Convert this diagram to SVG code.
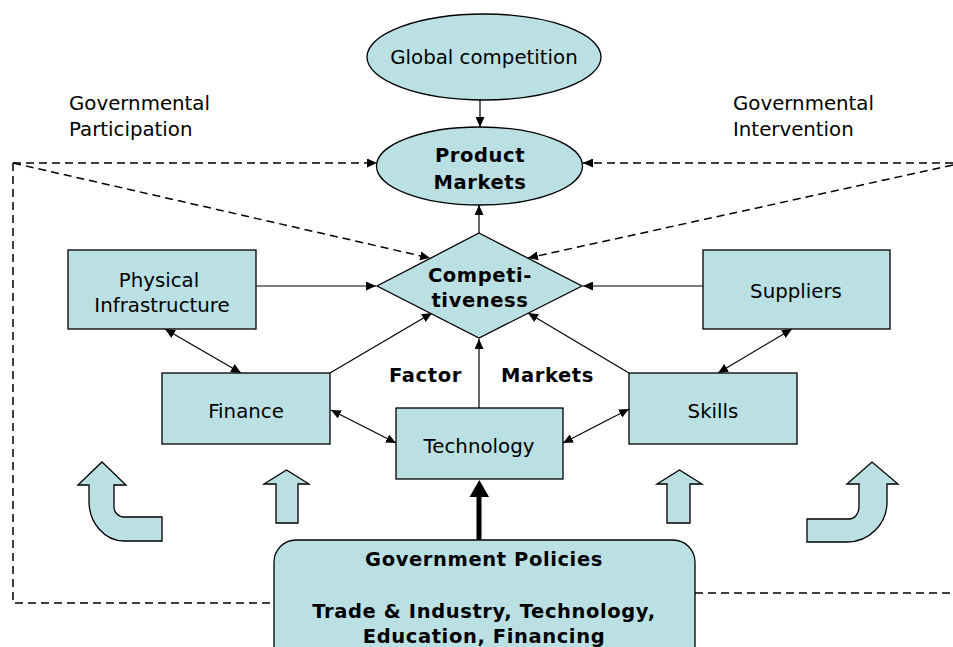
<svg xmlns="http://www.w3.org/2000/svg" width="953" height="647" viewBox="0 0 953 647">
<defs>
<marker id="ah" markerUnits="userSpaceOnUse" markerWidth="11" markerHeight="9" refX="10" refY="4.5" orient="auto-start-reverse">
<path d="M0,0 L10,4.5 L0,9 Z" fill="#000"/>
</marker>
</defs>
<style>
.n{fill:#BAE0E3;stroke:#000;stroke-width:1.3}
.t{font-family:"DejaVu Sans","Liberation Sans",sans-serif;font-size:19.8px;fill:#000}
.b{font-family:"DejaVu Sans","Liberation Sans",sans-serif;font-size:19.5px;font-weight:bold;fill:#000;letter-spacing:0.6px}
.c{text-anchor:middle}
.l{stroke:#000;stroke-width:1.2;fill:none;marker-end:url(#ah)}
.d{marker-start:url(#ah)}
.ds{stroke:#000;stroke-width:1.5;fill:none;stroke-dasharray:8,5}
.dsa{marker-end:url(#ah)}
</style>
<rect width="953" height="647" fill="#fff"/>

<g id="connectors">
<line class="l" x1="480" y1="100" x2="480" y2="127"/>
<line class="l" x1="479" y1="233" x2="479" y2="205"/>
<line class="l" x1="256" y1="286" x2="376" y2="286"/>
<line class="l" x1="703" y1="286" x2="583" y2="286"/>
<line class="l d" x1="165" y1="329" x2="241" y2="373"/>
<line class="l" x1="330" y1="373" x2="432" y2="313"/>
<line class="l d" x1="331" y1="410" x2="396" y2="443"/>
<line class="l" x1="479" y1="408" x2="479" y2="339"/>
<line class="l" x1="629" y1="373" x2="528" y2="313"/>
<line class="l d" x1="563" y1="443" x2="629" y2="409"/>
<line class="l d" x1="718" y1="373" x2="792" y2="329"/>
<line x1="479" y1="540" x2="479" y2="495" stroke="#000" stroke-width="5"/>
<polygon points="469.5,497 489,497 479.3,480" fill="#000"/>
<line class="ds dsa" x1="13" y1="163" x2="377" y2="163"/>
<line class="ds dsa" x1="13" y1="163" x2="430" y2="258"/>
<polyline class="ds" points="13,163 13,603 274,603"/>
<line class="ds dsa" x1="953" y1="163" x2="583" y2="163"/>
<line class="ds dsa" x1="953" y1="165" x2="528" y2="258"/>
<line class="ds" x1="695" y1="593" x2="953" y2="593"/>
</g>

<g id="global-competition">
<ellipse class="n" cx="484" cy="57" rx="117" ry="43"/>
<text class="t c" x="484" y="64">Global competition</text>
</g>

<g id="product-markets">
<ellipse class="n" cx="479.5" cy="166" rx="103" ry="39"/>
<text class="b c" x="480" y="162">Product</text>
<text class="b c" x="480" y="189">Markets</text>
</g>

<g id="competitiveness">
<polygon class="n" points="479,233 582,286 479,338 377,286"/>
<text class="b c" x="480" y="282">Competi-</text>
<text class="b c" x="480" y="307">tiveness</text>
</g>

<g id="physical-infrastructure">
<rect class="n" x="68" y="250" width="188" height="79"/>
<text class="t c" x="159" y="287">Physical</text>
<text class="t c" x="162" y="312">Infrastructure</text>
</g>

<g id="suppliers">
<rect class="n" x="703" y="250" width="187" height="79"/>
<text class="t c" x="796" y="298">Suppliers</text>
</g>

<g id="finance">
<rect class="n" x="162" y="373" width="168" height="71"/>
<text class="t c" x="246" y="418">Finance</text>
</g>

<g id="technology">
<rect class="n" x="396" y="408" width="167" height="71"/>
<text class="t c" x="479" y="453">Technology</text>
</g>

<g id="skills">
<rect class="n" x="629" y="373" width="168" height="71"/>
<text class="t c" x="713" y="418">Skills</text>
</g>

<g id="labels">
<text class="t" x="69" y="110">Governmental</text>
<text class="t" x="69" y="136">Participation</text>
<text class="t" x="733" y="110">Governmental</text>
<text class="t" x="733" y="136">Intervention</text>
<text class="b c" x="425.5" y="382">Factor</text>
<text class="b c" x="547.5" y="382">Markets</text>
</g>

<g id="block-arrows">
<path class="n" d="M78,485 L102,462 L126,485 L114,485 L114,507 A10,10 0 0 0 124,517 L162,517 L162,541 L124,541 A35,40 0 0 1 89,501 L89,485 Z"/>
<path class="n" d="M264,484 L286.5,470 L309,484 L298,484 L298,523 L276,523 L276,484 Z"/>
<path class="n" d="M657,484 L679.5,470 L702,484 L690,484 L690,523 L667,523 L667,484 Z"/>
<path class="n" d="M847,484 L872,462 L898,484 L887,484 L887,502 A40,40 0 0 1 847,542 L807,542 L807,519 L849,519 A10,12 0 0 0 859,507 L859,484 Z"/>
</g>

<g id="government-policies">
<rect class="n" x="274" y="540" width="421" height="130" rx="22"/>
<text class="b c" x="484" y="566">Government Policies</text>
<text class="b c" x="484" y="618">Trade &amp; Industry, Technology,</text>
<text class="b c" x="484" y="643">Education, Financing</text>
</g>
</svg>
